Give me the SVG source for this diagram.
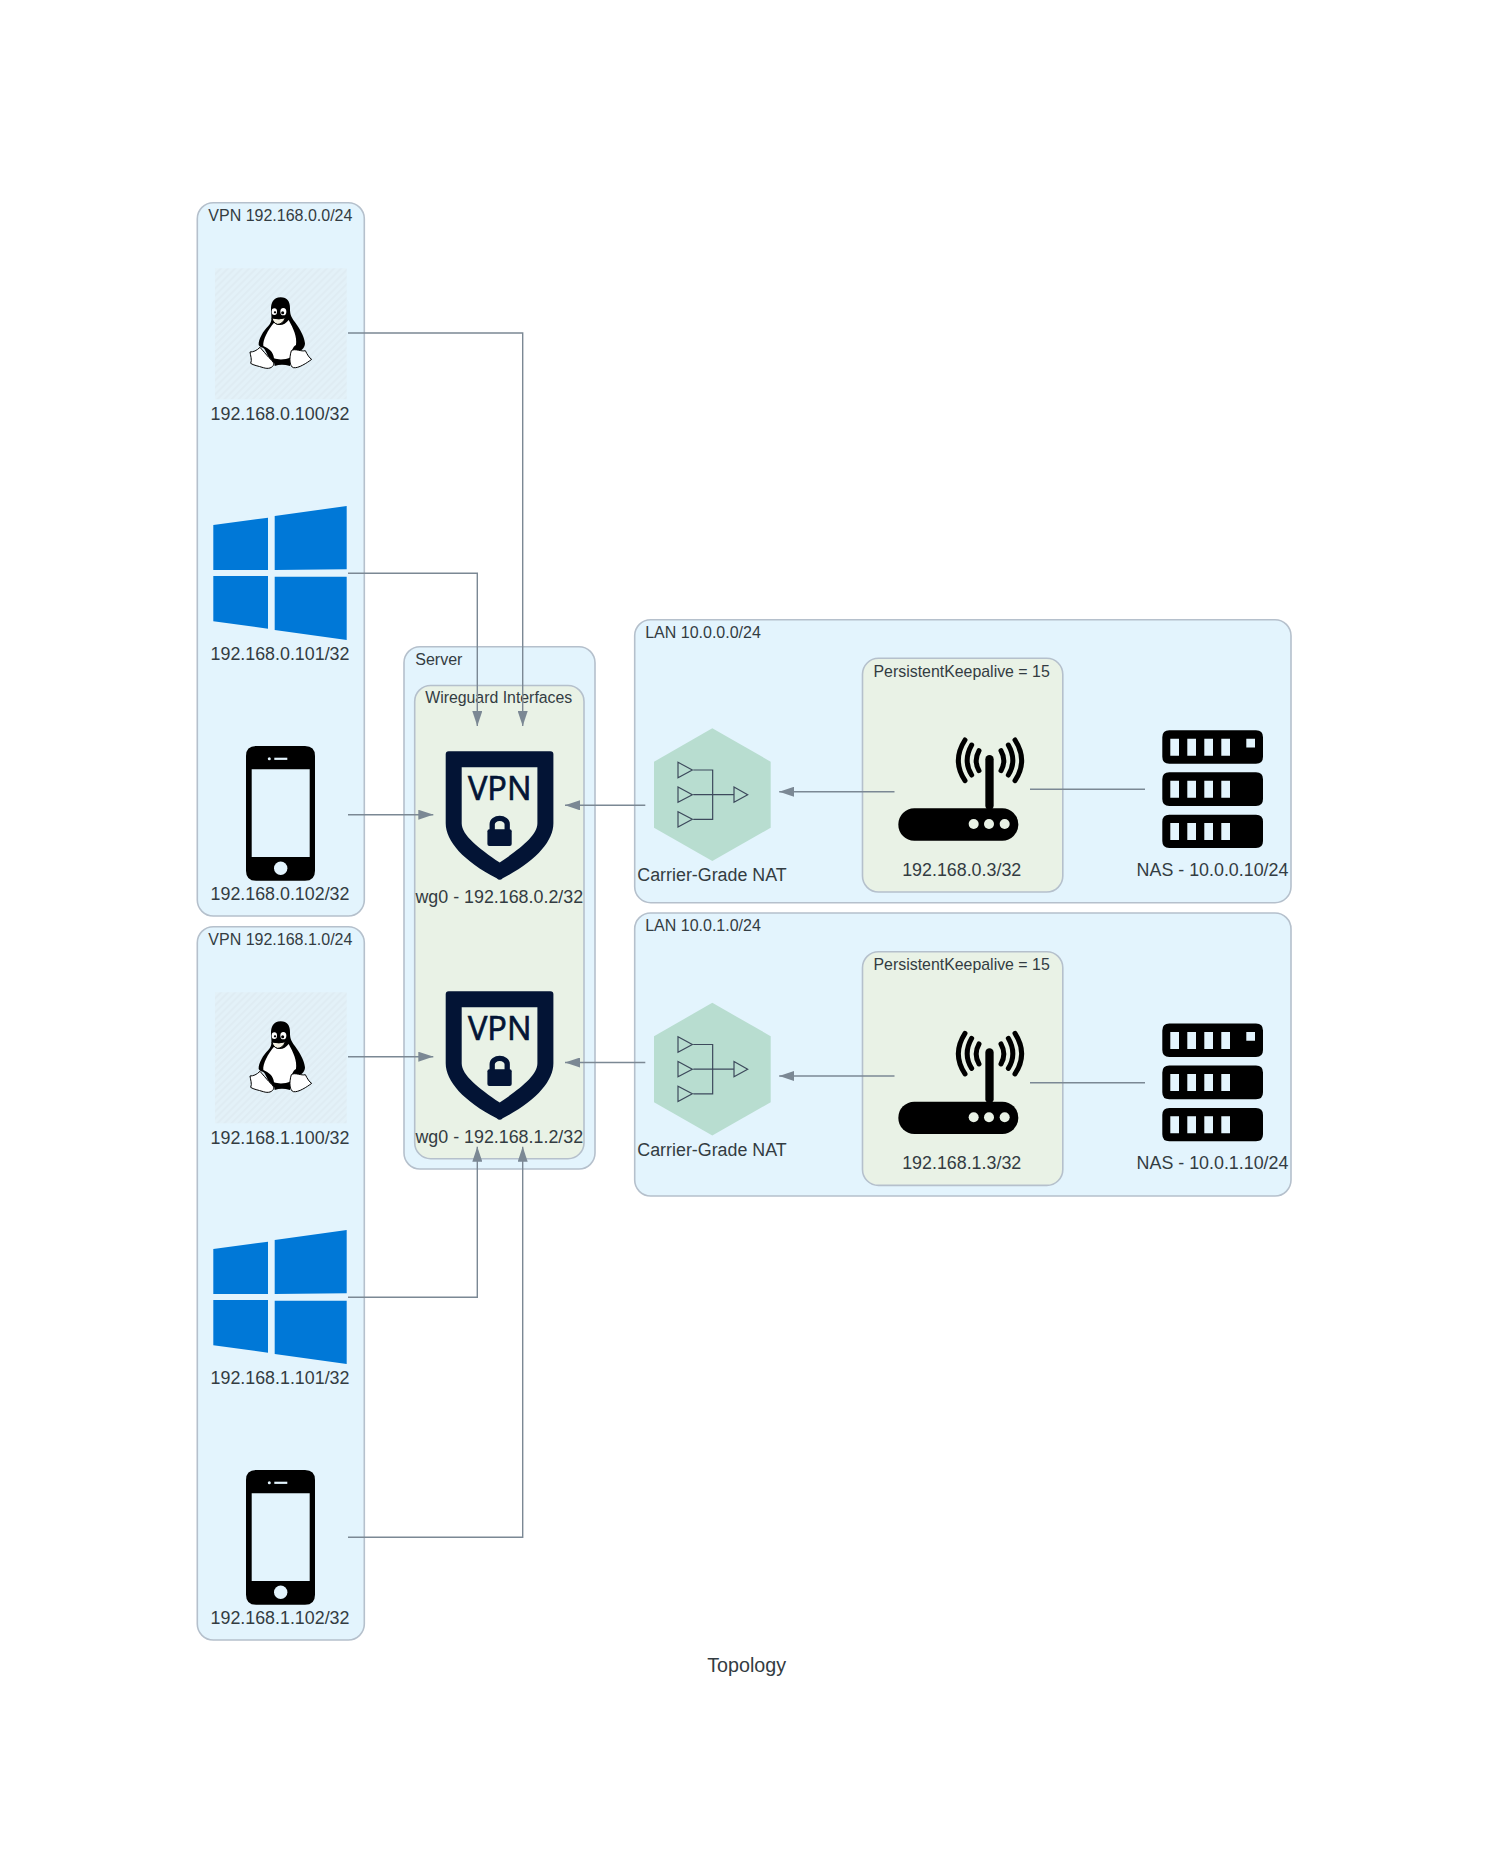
<svg xmlns="http://www.w3.org/2000/svg" width="1493" height="1876" viewBox="0 0 1493 1876">
<style>
text{font-family:"Liberation Sans",Arial,sans-serif;fill:#333c42}
.c{fill:#e3f4fd;stroke:#b5c0cc;stroke-width:1.6}
.k{fill:#e9f2e6;stroke:#b5c0cc;stroke-width:1.6}
.t{font-size:16px}
.l{font-size:17.85px;text-anchor:middle}
.e{fill:none;stroke:#7b8894;stroke-width:1.4}
.w{fill:#0078d7}
.s{fill:#031435}
.vpn{font-family:"Open Sans",sans-serif;font-size:32.6px;text-anchor:middle;fill:#031435;stroke:#031435;stroke-width:.7}
.n{fill:#b8ddd0}
.g{fill:none;stroke:#3d4a5c;stroke-width:3.6}
.a{fill:none;stroke:#000;stroke-width:15;stroke-linecap:round}
</style>
<defs>
<marker id="ah" markerWidth="15" markerHeight="10" refX="15" refY="5" orient="auto" markerUnits="userSpaceOnUse"><path d="M0,0L15,5L0,10Z" fill="#7b8894"/></marker>
<pattern id="hatch" width="5" height="5" patternUnits="userSpaceOnUse" patternTransform="rotate(45)"><rect width="5" height="5" fill="#e3f1f8"/><rect width="2" height="5" fill="#dfecf3"/></pattern>
<g id="tux">
<rect x="215" y="268.3" width="131.7" height="131" fill="url(#hatch)"/>
<g transform="translate(230,280) scale(.33333)">
<path d="M152,52C130,52 122,70 123,90C124,110 128,125 115,138C100,152 85,178 86,195C92,205 100,200 105,210L125,250L185,250L195,215C210,218 225,205 225,190C222,165 205,140 190,120C180,105 180,95 180,85C180,65 172,52 152,52Z"/>
<path d="M132,128C148,142 165,134 176,120C190,145 202,170 198,195C188,200 183,215 183,232C165,240 145,240 132,235C130,215 116,205 100,198C98,178 114,150 132,128Z" fill="#fff"/>
<ellipse cx="133" cy="95" rx="8" ry="10" fill="#fff"/><ellipse cx="160" cy="95" rx="9" ry="11" fill="#fff"/>
<circle cx="135" cy="97" r="3.5"/><circle cx="158" cy="98" r="4.5"/>
<path d="M126,114Q148,120 166,113Q158,133 143,133Q130,130 126,114Z" fill="#f3f0e2" stroke="#000" stroke-width="3"/>
<path d="M132,240Q155,248 182,240L180,258Q155,250 134,258Z"/>
<path d="M60,216C70,216 80,212 90,202C100,212 106,222 116,232C124,240 130,245 132,252C128,264 115,268 100,263C85,258 70,256 62,250C67,240 61,226 60,216Z" fill="#fff" stroke="#000" stroke-width="3"/>
<path d="M184,212C195,204 215,216 226,212C232,224 238,234 245,238C232,248 205,266 190,263C180,260 176,238 184,212Z" fill="#fff" stroke="#000" stroke-width="3"/>
</g>
</g>
<g id="win">
<path class="w" d="M213.3,525L268,517.7V570H213.3Z"/>
<path class="w" d="M274.7,516L346.7,506V569.3L274.7,570Z"/>
<path class="w" d="M213.3,576H268V628.7L213.3,621.3Z"/>
<path class="w" d="M274.7,576.7H346.7V640L274.7,630Z"/>
</g>
<g id="phone">
<path fill-rule="evenodd" d="M256,746H305Q315,746 315,756V870.7Q315,880.7 305,880.7H256Q246,880.7 246,870.7V756Q246,746 256,746ZM251.7,769.3V857H309.7V769.3Z"/>
<circle cx="280.7" cy="868.3" r="6.7" fill="#e3f4fd"/>
<rect x="274.3" y="757.7" width="13" height="2.2" fill="#e3f4fd"/>
<circle cx="269.3" cy="758.7" r="1.5" fill="#e3f4fd"/>
</g>
<g id="shield">
<path class="s" fill-rule="evenodd" d="M3,0H104.7Q107.7,0 107.7,3V72C107.7,90 90,110 57,127Q54,130 51,127C18,110 0,90 0,72V3Q0,0 3,0ZM16,16V72C16,84 33,97 54,111.3C75,97 91.7,84 91.7,72V16Z"/>
<rect class="s" x="41.7" y="78" width="24.3" height="16.7" rx="2"/>
<path d="M46.5,79V73A7.5,6 0 0 1 61.5,73V79" fill="none" stroke="#031435" stroke-width="5.3"/>
</g>
<g id="nat">
<path class="n" d="M712.3,728.3L770.7,761.7V827.7L712.3,861L654,827.7V761.7Z"/>
<g transform="translate(640,720) scale(.33333)">
<path class="g" d="M114,127V173L157,150ZM114,201V247L157,224ZM114,275V321L157,298ZM282,201V247L323,224ZM160,150H218V298H160M160,224H282"/>
</g>
</g>
<g id="router">
<g transform="translate(880,720) scale(.33333)">
<rect x="55" y="265" width="360" height="97" rx="48"/>
<rect x="316" y="105" width="25" height="165" rx="12.5"/>
<circle cx="281" cy="312" r="15" fill="#e9f2e6"/><circle cx="327" cy="312" r="15" fill="#e9f2e6"/><circle cx="374" cy="312" r="15" fill="#e9f2e6"/>
<path class="a" d="M297,92Q280,122 297,152M363,92Q380,122 363,152M275,75Q248,122 275,165M385,75Q412,122 385,165M255,60Q215,122 255,182M405,60Q445,122 405,182"/>
</g>
</g>
<g id="rack">
<path fill-rule="evenodd" d="M1169.3,730.3H1256Q1263,730.3 1263,737.3V756.7Q1263,763.7 1256,763.7H1169.3Q1162.3,763.7 1162.3,756.7V737.3Q1162.3,730.3 1169.3,730.3ZM1170.3,738.7V755.7H1179V738.7ZM1187.3,738.7V755.7H1196V738.7ZM1204.3,738.7V755.7H1213V738.7ZM1221.3,738.7V755.7H1230V738.7ZM1246.3,738.7V747.4H1255V738.7Z"/>
<path fill-rule="evenodd" d="M1169.3,772.3H1256Q1263,772.3 1263,779.3V799Q1263,806 1256,806H1169.3Q1162.3,806 1162.3,799V779.3Q1162.3,772.3 1169.3,772.3ZM1170.3,780.7V797.7H1179V780.7ZM1187.3,780.7V797.7H1196V780.7ZM1204.3,780.7V797.7H1213V780.7ZM1221.3,780.7V797.7H1230V780.7Z"/>
<path fill-rule="evenodd" d="M1169.3,814.7H1256Q1263,814.7 1263,821.7V841Q1263,848 1256,848H1169.3Q1162.3,848 1162.3,841V821.7Q1162.3,814.7 1169.3,814.7ZM1170.3,823V840H1179V823ZM1187.3,823V840H1196V823ZM1204.3,823V840H1213V823ZM1221.3,823V840H1230V823Z"/>
</g>
</defs>
<rect width="1493" height="1876" fill="#fff"/>

<g id="cluster-vpn0">
<rect class="c" x="197.3" y="202.7" width="167" height="713.3" rx="16"/>
<text class="t" x="208.3" y="221">VPN 192.168.0.0/24</text>
</g>
<g id="cluster-vpn1">
<rect class="c" x="197.3" y="926.7" width="167" height="713.3" rx="16"/>
<text class="t" x="208.3" y="945">VPN 192.168.1.0/24</text>
</g>
<g id="cluster-server">
<rect class="c" x="404" y="646.7" width="191" height="522.3" rx="16"/>
<text class="t" x="415.3" y="665">Server</text>
<rect class="k" x="414.7" y="685.5" width="169.3" height="473.2" rx="16"/>
<text class="t" x="425.2" y="703.3" style="font-size:15.85px">Wireguard Interfaces</text>
</g>
<g id="cluster-lan0">
<rect class="c" x="634.7" y="619.7" width="656.3" height="283" rx="16"/>
<text class="t" x="645.2" y="637.7">LAN 10.0.0.0/24</text>
<rect class="k" x="862.5" y="658.3" width="200.3" height="233.7" rx="16"/>
<text class="t" x="873.5" y="676.7" style="font-size:15.9px">PersistentKeepalive = 15</text>
</g>
<g id="cluster-lan1">
<rect class="c" x="634.7" y="913" width="656.3" height="283" rx="16"/>
<text class="t" x="645.2" y="931">LAN 10.0.1.0/24</text>
<rect class="k" x="862.5" y="951.7" width="200.3" height="233.7" rx="16"/>
<text class="t" x="873.5" y="970" style="font-size:15.9px">PersistentKeepalive = 15</text>
</g>

<g id="connectors">
<path class="e" d="M348,333H522.7V726" marker-end="url(#ah)"/>
<path class="e" d="M348,573.3H477.3V726" marker-end="url(#ah)"/>
<path class="e" d="M348,814.7H433.3" marker-end="url(#ah)"/>
<path class="e" d="M348,1056.7H433.3" marker-end="url(#ah)"/>
<path class="e" d="M348,1297.3H477.3V1146.7" marker-end="url(#ah)"/>
<path class="e" d="M348,1537.3H522.7V1146.7" marker-end="url(#ah)"/>
<path class="e" d="M645.3,805.3H565" marker-end="url(#ah)"/>
<path class="e" d="M645.3,1062.5H565" marker-end="url(#ah)"/>
<path class="e" d="M894.5,791.7H779.2" marker-end="url(#ah)"/>
<path class="e" d="M894.5,1076H779.2" marker-end="url(#ah)"/>
<path class="e" d="M1030,789.3H1145"/>
<path class="e" d="M1030,1082.7H1145"/>
</g>

<g id="linux0"><use href="#tux"/><text class="l" x="280" y="420">192.168.0.100/32</text></g>
<g id="windows0"><use href="#win"/><text class="l" x="280" y="660">192.168.0.101/32</text></g>
<g id="phone0"><use href="#phone"/><text class="l" x="280" y="900">192.168.0.102/32</text></g>
<g id="linux1"><use href="#tux" y="724"/><text class="l" x="280" y="1144">192.168.1.100/32</text></g>
<g id="windows1"><use href="#win" y="724"/><text class="l" x="280" y="1384">192.168.1.101/32</text></g>
<g id="phone1"><use href="#phone" y="724"/><text class="l" x="280" y="1624">192.168.1.102/32</text></g>

<g id="wg0-a"><use href="#shield" x="445.7" y="751.3"/><text class="vpn" x="499.7" y="800.3">VPN</text><text class="l" x="499.3" y="902.7">wg0 - 192.168.0.2/32</text></g>
<g id="wg0-b"><use href="#shield" x="445.7" y="991.3"/><text class="vpn" x="499.7" y="1040.3">VPN</text><text class="l" x="499.3" y="1142.7">wg0 - 192.168.1.2/32</text></g>

<g id="nat0"><use href="#nat"/><text class="l" x="712" y="881">Carrier-Grade NAT</text></g>
<g id="nat1"><use href="#nat" y="274.5"/><text class="l" x="712" y="1156">Carrier-Grade NAT</text></g>
<g id="router0"><use href="#router"/><text class="l" x="961.7" y="876">192.168.0.3/32</text></g>
<g id="router1"><use href="#router" y="293.3"/><text class="l" x="961.7" y="1169">192.168.1.3/32</text></g>
<g id="nas0"><use href="#rack"/><text class="l" x="1212.5" y="876">NAS - 10.0.0.10/24</text></g>
<g id="nas1"><use href="#rack" y="293.3"/><text class="l" x="1212.5" y="1169">NAS - 10.0.1.10/24</text></g>

<text id="title" x="746.7" y="1672" font-size="19.7" text-anchor="middle">Topology</text>
</svg>
